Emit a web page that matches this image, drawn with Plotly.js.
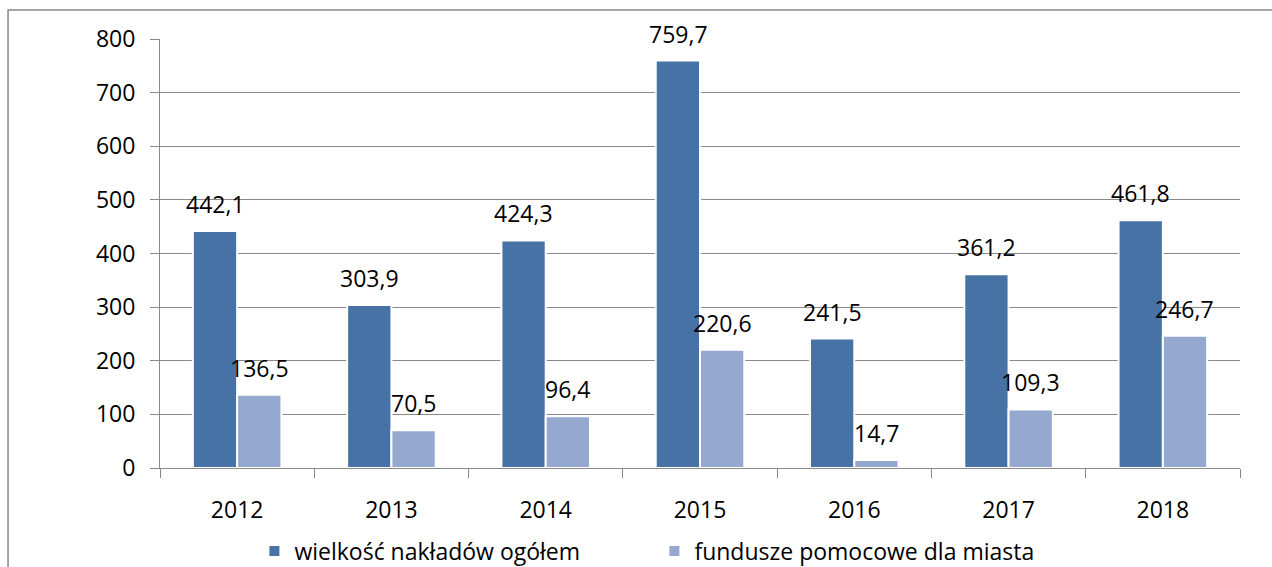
<!DOCTYPE html>
<html>
<head>
<meta charset="utf-8">
<script src="https://cdn.plot.ly/plotly-3.0.1.min.js"></script>
<style>html,body{margin:0;padding:0;background:#fff;}#chart{width:1272px;height:567px;}</style>
</head>
<body>
<div id="chart"></div>
<script>
const years = ['2012', '2013', '2014', '2015', '2016', '2017', '2018'];
const totalSpend = [442.1, 303.9, 424.3, 759.7, 241.5, 361.2, 461.8];
const aidFunds = [136.5, 70.5, 96.4, 220.6, 14.7, 109.3, 246.7];
const seriesNames = ['wielkość nakładów ogółem', 'fundusze pomocowe dla miasta'];
const yTicks = [0, 100, 200, 300, 400, 500, 600, 700, 800];

const fmt = v => v.toFixed(1).replace('.', ',');
const FONT = 'Open Sans, sans-serif';
const FS = 23;
const GRID = '#898989';

const traces = [
  {type: 'bar', name: seriesNames[0], x: years, y: totalSpend,
   marker: {color: '#4672A6', line: {color: '#ffffff', width: 2}}, hoverinfo: 'skip'},
  {type: 'bar', name: seriesNames[1], x: years, y: aidFunds,
   marker: {color: '#95A8D0', line: {color: '#ffffff', width: 2}}, hoverinfo: 'skip'}
];

const annotations = [];
[totalSpend, aidFunds].forEach((arr, si) => {
  arr.forEach((v, i) => {
    annotations.push({
      x: i, y: v, xref: 'x', yref: 'y', text: fmt(v), showarrow: false,
      xshift: si === 0 ? -22 : 22, yshift: 27, yanchor: 'middle', xanchor: 'center',
      font: {family: FONT, size: FS, color: '#000'}
    });
  });
});

const layout = {
  width: 1272, height: 567,
  margin: {l: 160, r: 32, t: 39, b: 99, autoexpand: false},
  paper_bgcolor: '#fff', plot_bgcolor: '#fff',
  barmode: 'group', bargap: 0.426, bargroupgap: 0,
  font: {family: FONT, size: FS, color: '#000'},
  showlegend: true,
  legend: {orientation: 'h', xref: 'container', yref: 'container',
           x: 0.2, xanchor: 'left', y: 1 - 551 / 567, yanchor: 'middle',
           entrywidth: 355, entrywidthmode: 'pixels',
           font: {family: FONT, size: FS, color: '#000'}, itemclick: false, traceorder: 'normal'},
  xaxis: {type: 'category', categoryorder: 'array', categoryarray: years,
          range: [-0.5, years.length - 0.5], autorange: false,
          showline: true, linecolor: GRID, linewidth: 1, tickangle: 0,
          ticks: 'outside', tickson: 'boundaries', ticklen: 9, tickcolor: GRID, tickwidth: 1,
          showgrid: false, ticklabelstandoff: 21, tickfont: {family: FONT, size: FS, color: '#000'}},
  yaxis: {range: [0, 800], autorange: false, tickvals: yTicks, showline: true, linecolor: GRID, linewidth: 1,
          ticks: 'outside', ticklen: 9, tickcolor: GRID, tickwidth: 1,
          showgrid: true, gridcolor: GRID, gridwidth: 1, zeroline: false,
          ticklabelstandoff: 10, tickfont: {family: FONT, size: FS, color: '#000'}},
  annotations: annotations,
  shapes: [{type: 'rect', xref: 'paper', yref: 'paper', x0: -0.1407, x1: 2, y0: -2, y1: 1.0676,
            line: {color: '#878787', width: 1.5}, fillcolor: 'rgba(0,0,0,0)', layer: 'below'}]
};

Plotly.newPlot('chart', traces, layout, {displayModeBar: false, staticPlot: true});
</script>
</body>
</html>
